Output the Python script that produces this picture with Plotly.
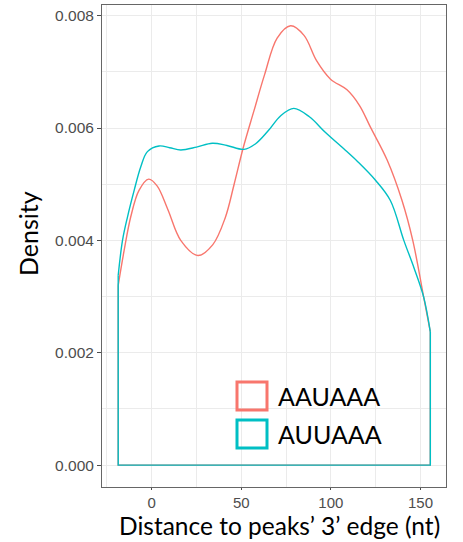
import plotly.graph_objects as go

# Density estimates of motif distance to the peak's 3' edge
aau_x = [-18.7, -15.4, -11.7, -7.1, -1.7, 3.0, 9.0, 16.2, 25.8, 34.0, 41.0, 46.0, 51.0,
         57.0, 63.0, 70.0, 77.5, 85.0, 92.0, 99.8, 109.0, 116.0, 122.0, 131.4, 139.7, 145.7,
         151.8, 155.5]
aau_y = [0.00320, 0.00382, 0.00442, 0.00489, 0.00509, 0.00497, 0.00455, 0.00400,
         0.00373, 0.00392, 0.00440, 0.00500, 0.00564, 0.00630, 0.00695, 0.00760, 0.00782,
         0.00765, 0.00720, 0.00687, 0.00668, 0.00640, 0.00602, 0.00543, 0.00471, 0.00400,
         0.00299, 0.00237]

auu_x = [-18.7, -16.3, -13.5, -9.8, -6.1, -2.4, 4.1, 10.0, 16.2, 25.0, 33.8, 42.0, 51.5,
         58.0, 65.0, 72.0, 79.3, 88.0, 97.0, 107.2, 115.0, 124.9, 133.2, 140.7, 146.5,
         151.8, 155.5]
auu_y = [0.00338, 0.00400, 0.00442, 0.00489, 0.00531, 0.00558, 0.00568, 0.00565, 0.00561,
         0.00566, 0.00573, 0.00569, 0.00562, 0.00572, 0.00595, 0.00622, 0.00635, 0.00620,
         0.00592, 0.00563, 0.00540, 0.00507, 0.00471, 0.00400, 0.00350, 0.00299, 0.00237]

series_names = ["AAUAAA", "AUUAAA"]
series_colors = ["#F8766D", "#00BFC4"]

x_ticks = [0, 50, 100, 150]
y_ticks = [0.000, 0.002, 0.004, 0.006, 0.008]
y_tick_text = ["0.000", "0.002", "0.004", "0.006", "0.008"]

fig = go.Figure()

for xs, ys, color in [(aau_x, aau_y, series_colors[0]), (auu_x, auu_y, series_colors[1])]:
    # closing outline of the density polygon down to the baseline
    fig.add_trace(go.Scatter(
        x=[xs[0], xs[0], xs[-1], xs[-1]], y=[ys[0], 0, 0, ys[-1]],
        mode="lines", line=dict(color=color, width=1.4), showlegend=False,
        hoverinfo="skip"))
    # smooth density curve
    fig.add_trace(go.Scatter(
        x=xs, y=ys, mode="lines",
        line=dict(color=color, width=1.4, shape="spline", smoothing=1.0),
        showlegend=False))

grid = "#ebebeb"
tick_font = dict(family="Liberation Sans, Arial, sans-serif", size=15.5, color="#4d4d4d")

fig.update_xaxes(
    range=[-27.75, 164.25], tickvals=x_ticks, ticks="outside", ticklen=2,
    tickcolor="#4d4d4d", tickfont=dict(tick_font, size=15), showgrid=True, gridcolor=grid,
    gridwidth=1,
    minor=dict(dtick=25, tick0=-25, showgrid=True, gridcolor=grid, gridwidth=0.6),
    zeroline=False, showline=True, linecolor="#666666", linewidth=1, mirror=True)
fig.update_yaxes(
    range=[-0.00039, 0.00819], tickvals=y_ticks, ticktext=y_tick_text, ticks="outside",
    ticklen=4, tickcolor="#4d4d4d", tickfont=tick_font, showgrid=True, gridcolor=grid,
    gridwidth=1,
    minor=dict(dtick=0.001, tick0=0.001, showgrid=True, gridcolor=grid, gridwidth=0.6),
    zeroline=False, showline=True, linecolor="#666666", linewidth=1, mirror=True)

title_font = dict(family="Lato, Open Sans, sans-serif", size=25, color="black")

annotations = [
    dict(text="Density", x=28, y=234, xref="paper", yref="paper", textangle=-90,
         showarrow=False, font=title_font, xanchor="center", yanchor="middle"),
    dict(text="Distance to peaks\u2019 3\u2019 edge (nt)", x=279, y=541.5, xref="paper",
         yref="paper", showarrow=False,
         font=dict(family="Lato, Open Sans, sans-serif", size=24.5, color="black"),
         xanchor="center", yanchor="bottom"),
]

# legend keys drawn as outlined squares inside the panel
shapes = []
key_rows = [396, 434]
for name, color, yc in zip(series_names, series_colors, key_rows):
    shapes.append(dict(type="rect", xref="paper", yref="paper",
                       x0=237, x1=267, y0=yc - 14, y1=yc + 14,
                       line=dict(color=color, width=3), fillcolor="rgba(0,0,0,0)"))
    annotations.append(dict(text=name, x=276, y=yc, xref="paper", yref="paper",
                            showarrow=False, xanchor="left", yanchor="middle",
                            font=dict(family="Lato, Open Sans, sans-serif", size=25,
                                      color="black")))

W, H = 463, 542
ML, MR, MT, MB = 102, 17, 5, 55
# convert pixel positions of annotations/shapes into paper fractions
pw, ph = W - ML - MR, H - MT - MB
for a in annotations:
    a["x"] = (a["x"] - ML) / pw
    a["y"] = 1 - (a["y"] - MT) / ph
for s in shapes:
    s["x0"], s["x1"] = (s["x0"] - ML) / pw, (s["x1"] - ML) / pw
    s["y0"], s["y1"] = 1 - (s["y0"] - MT) / ph, 1 - (s["y1"] - MT) / ph

fig.update_layout(
    width=W, height=H, margin=dict(l=ML, r=MR, t=MT, b=MB),
    paper_bgcolor="white", plot_bgcolor="white", showlegend=False,
    annotations=annotations, shapes=shapes)

fig.write_html("out.html", include_plotlyjs=True, config={"displayModeBar": False})
